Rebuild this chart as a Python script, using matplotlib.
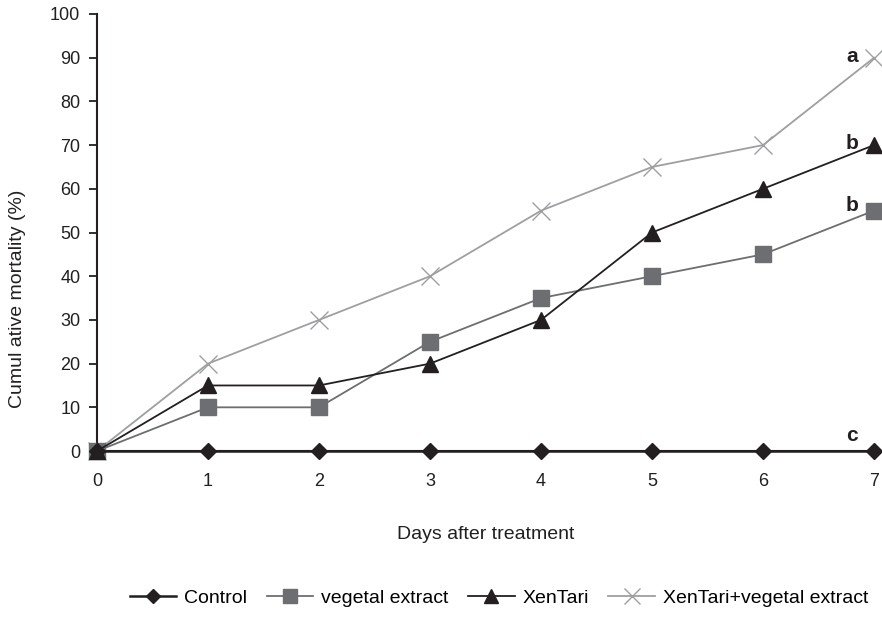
import matplotlib
matplotlib.use("Agg")
import matplotlib.pyplot as plt

days = [0, 1, 2, 3, 4, 5, 6, 7]
control = [0, 0, 0, 0, 0, 0, 0, 0]
vegetal = [0, 10, 10, 25, 35, 40, 45, 55]
xentari = [0, 15, 15, 20, 30, 50, 60, 70]
combined = [0, 20, 30, 40, 55, 65, 70, 90]
series_names = ["Control", "vegetal extract", "XenTari", "XenTari+vegetal extract"]
group_letters = ["c", "b", "b", "a"]
y_ticks = [0, 10, 20, 30, 40, 50, 60, 70, 80, 90, 100]

plt.rcParams["font.family"] = ["Liberation Sans", "DejaVu Sans"]

fig = plt.figure(figsize=(8.82, 6.24), dpi=100)
ax = fig.add_axes([0.110, 0.2772, 0.881, 0.7004])

styles = [
    dict(color="#231f20", marker="D", ms=8, lw=1.8, mfc="#231f20", mec="#231f20"),
    dict(color="#6d6e71", marker="s", ms=11, lw=1.3, mfc="#6d6e71", mec="#6d6e71"),
    dict(color="#231f20", marker="^", ms=11, lw=1.3, mfc="#231f20", mec="#231f20"),
    dict(color="#9d9fa2", marker="x", ms=13, lw=1.3, mew=1.0),
]
data = [control, vegetal, xentari, combined]
zorders = [5, 3, 4, 2]

handles = []
for vals, name, st, z in zip(data, series_names, styles, zorders):
    h, = ax.plot(days, vals, label=name, clip_on=False, zorder=z, **st)
    handles.append(h)

# significance letters next to the last point of each series
letter_offsets = [(-16, 11.5), (-16, 4), (-16, 1.5), (-16, 0.5)]
for vals, letter, off in zip(data, group_letters, letter_offsets):
    ax.annotate(letter, xy=(days[-1], vals[-1]), xytext=off, textcoords="offset points",
                ha="center", va="center", fontsize=15, fontweight="bold",
                color="#231f20")

ax.set_xlim(0, 7)
ax.set_ylim(0, 100)
ax.set_xticks(days)
ax.set_yticks(y_ticks)
ax.tick_params(axis="y", length=6, width=1.3, pad=6, labelsize=13, colors="#231f20")
ax.tick_params(axis="x", length=0, pad=16, labelsize=13, colors="#231f20")

for side in ["top", "right"]:
    ax.spines[side].set_visible(False)
ax.spines["left"].set_linewidth(1.5)
ax.spines["left"].set_color("#231f20")
ax.spines["bottom"].set_linewidth(1.5)
ax.spines["bottom"].set_color("#231f20")

ax.set_ylabel("Cumul ative mortality (%)", fontsize=14, color="#231f20")
ax.yaxis.set_label_coords(-0.091, 0.348)
ax.set_xlabel("Days after treatment", fontsize=14, labelpad=26, color="#231f20")

fig.legend(handles=handles, loc="center", bbox_to_anchor=(499 / 882, 0.042), ncol=4,
           frameon=False, fontsize=14, handlelength=2.4, columnspacing=1.0,
           handletextpad=0.4, markerscale=0.9)

fig.savefig("out.png", dpi=100)
